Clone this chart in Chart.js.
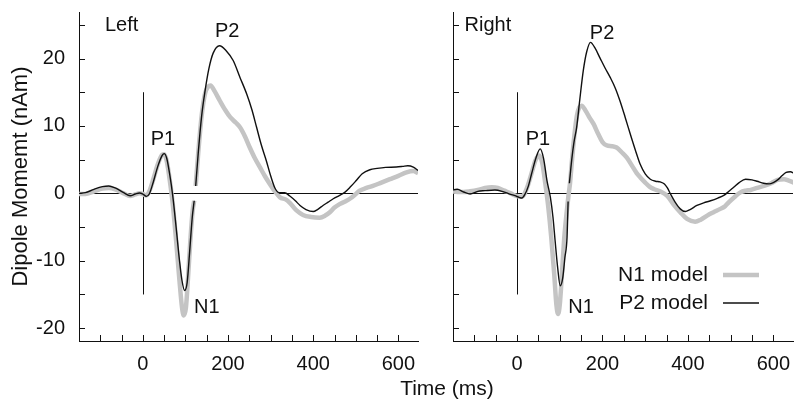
<!DOCTYPE html>
<html>
<head>
<meta charset="utf-8">
<script src="https://cdn.jsdelivr.net/npm/chart.js@4.4.0/dist/chart.umd.min.js"></script>
<style>
  body { margin: 0; background: #fff; }
  #wrap { position: relative; width: 800px; height: 408px; }
  #left { position: absolute; left: 0; top: 0; }
  #right { position: absolute; left: 430px; top: 0; }
  #xtitle { position: absolute; left: 347px; width: 200px; top: 376px; text-align: center;
            font: 21px "Liberation Sans", Arial, sans-serif; color: #111; }
</style>
</head>
<body>
<div id="wrap">
  <canvas id="left" width="430" height="408"></canvas>
  <canvas id="right" width="370" height="408"></canvas>
  <div id="xtitle">Time (ms)</div>
</div>
<script>
// ---- data (time in ms, dipole moment in nAm) ----
const leftP2Time = [-150,-135,-115,-95,-80,-65,-45,-30,-18,-8,0,8,15,25,35,45,50,56,63,70,78,86,92,98,104,110,116,120.5,122,124,130,138,146,155,165,180,195,212,228,244,256,267,278,290,300,310,320,333,345,358,369,383,400,410,423,435,447,462,474,488,501,515,533,550,570,595,610,622,635,646];
const leftP2 = [0,0.1,0.6,1.0,1.1,0.8,0.1,-0.35,-0.1,0.05,-0.1,-0.45,-0.1,1.8,4.0,5.6,5.9,5.2,2.8,-0.3,-5,-10,-13,-14.4,-13.2,-8.5,-3.5,-1.1,null,1.1,6,11.5,15.2,18.5,20.8,21.9,21.2,19.7,17.2,14.7,12.4,9.8,7.2,4.8,2.6,0.8,0.1,0.1,-0.4,-1.1,-1.8,-2.4,-2.7,-2.4,-1.8,-1.3,-0.8,-0.3,0.15,1.0,1.9,2.9,3.5,3.7,3.85,3.9,4.0,4.1,3.9,3.4];

const leftN1Time = [-150,-135,-115,-95,-80,-65,-45,-30,-18,-8,0,8,15,25,35,45,50,56,63,70,78,86,92,96,101,106,112,117,120.5,122,124,130,138,146,153,159,168,181,193,205,218,228,240,251,263,275,287,298,310,322,335,345,360,376,395,415,428,439,450,462,475,486,498,509,525,540,560,580,600,619,635,646];
const leftN1 = [-0.1,-0.1,0.3,0.7,0.8,0.6,0.0,-0.4,-0.15,0.0,-0.1,-0.3,0.3,2.2,4.3,5.7,5.8,4.8,2.0,-1.5,-7,-13,-17,-18.1,-17,-12.5,-6.5,-2.5,-1.1,null,1.1,6,11.5,14.8,15.8,16.0,15.2,13.7,12.4,11.3,10.5,9.8,8.4,6.8,5.2,3.85,2.5,1.4,0.3,-0.6,-0.9,-1.4,-2.5,-3.2,-3.5,-3.6,-3.3,-2.8,-2.1,-1.6,-1.2,-0.8,-0.2,0.4,0.8,1.1,1.6,2.1,2.6,3.1,3.3,3.0];

const rightP2Time = [-152,-140,-125,-110,-92,-75,-52,-35,-20,-5,5,11,18,26,34,44,54,62,70,78,84,89,95,101,107,112,117,119.5,121,122.5,128,133,139.5,147,155,163,172,182,194,206,218,230,241,253,265,277,288,300,312,324,335,345,352,360,370,382,394,405,421,437,453,470,484,496,507,520,535,550,562,577,590,600,610,620,630,640,648];
const rightP2 = [0.5,0.6,0.2,-0.1,0.3,0.4,0.5,0.3,-0.05,-0.35,-0.6,-0.7,-0.2,1.0,2.9,5.2,6.6,5.2,1.9,-0.6,-3.5,-7,-11,-13.7,-12.5,-9.5,-6.5,-1.2,null,1.5,5,7.5,9.8,14,18.2,21,22.4,21.6,20.1,18.6,17.2,15.6,13.7,11.3,8.8,6.4,4.35,2.9,2.1,1.8,1.7,1.4,0.8,-0.2,-1.3,-2.3,-2.7,-2.4,-1.8,-1.4,-1.1,-0.7,-0.3,0.3,0.9,1.6,2.1,2.0,1.8,1.5,1.4,1.6,2.0,2.6,3.1,3.2,3.0];

const rightN1Time = [-152,-140,-125,-110,-92,-75,-59,-45,-30,-15,-5,5,11,18,26,34,43,51.7,59,66,73,80,87,92,96,100,105,110,115,120,124,128,134,140,146,151,160,170,179,190,200,210,222,233,245,257,270,280,288,300,310,320,335,351,367,382,398,417,430,445,460,476,487,496,510,523,535,547,562,578,595,610,625,636,648];
const rightN1 = [0.3,0.2,0.2,0.3,0.5,0.8,0.9,0.8,0.4,0.0,-0.3,-0.5,-0.5,0.0,1.3,3.0,4.9,5.6,4.5,1.5,-2,-6.5,-12,-16.5,-17.9,-16.5,-12,-7,-3.5,-0.5,1.5,4.5,8.5,11.5,12.8,13.0,12.3,11.2,10.3,8.8,7.6,7.1,7.0,6.8,6.1,5.3,4.0,3.0,2.4,1.6,1.0,0.65,0.3,-0.35,-1.7,-2.8,-3.8,-4.2,-3.9,-3.3,-2.8,-2.3,-1.9,-1.3,-0.5,0.15,0.4,0.5,0.8,1.1,1.5,2.0,2.1,1.9,1.6];

const xLabelTicks = [0, 200, 400, 600];
const yLabelTicks = [-20, -10, 0, 10, 20];
const xMinorTicks = [-100,-50,0,50,100,150,200,250,300,350,400,450,500,550,600];
const yMinorTicks = [-20,-15,-10,-5,0,5,10,15,20,25];

const FONT = '"Liberation Sans", Arial, sans-serif';
Chart.defaults.font.family = FONT;
Chart.defaults.font.size = 20;
Chart.defaults.color = '#111';

function toPoints(times, values) {
    return times.map((t, i) => ({ x: t, y: values[i] }));
}

// no extra room for end labels, the box sizes are fixed
function noPadding(s) {
    s.paddingTop = 0;
    s.paddingBottom = 0;
    s.paddingLeft = 0;
    s.paddingRight = 0;
}

// zero line, stimulus line, inward ticks, labels and legend
const overlay = {
    id: 'overlay',
    beforeDatasetsDraw(chart, args, opts) {
        const { ctx, chartArea: a, scales: { x, y } } = chart;
        ctx.save();
        ctx.strokeStyle = '#111';
        ctx.lineWidth = 1;
        ctx.beginPath();
        const y0 = Math.round(y.getPixelForValue(0)) + 0.5;
        ctx.moveTo(a.left, y0);
        ctx.lineTo(a.right, y0);
        const x0 = Math.round(x.getPixelForValue(0)) + 0.5;
        ctx.moveTo(x0, y.getPixelForValue(15));
        ctx.lineTo(x0, y.getPixelForValue(-15));
        xMinorTicks.forEach(v => {
            const px = Math.round(x.getPixelForValue(v)) + 0.5;
            ctx.moveTo(px, a.bottom);
            ctx.lineTo(px, a.bottom - 6);
        });
        yMinorTicks.forEach(v => {
            const py = Math.round(y.getPixelForValue(v)) + 0.5;
            ctx.moveTo(a.left, py);
            ctx.lineTo(a.left + 6, py);
        });
        ctx.stroke();
        ctx.restore();
    },
    afterDatasetsDraw(chart, args, opts) {
        const { ctx, scales: { x, y } } = chart;
        ctx.save();
        ctx.fillStyle = '#111';
        ctx.font = '20px ' + FONT;
        ctx.textBaseline = 'middle';
        (opts.labels || []).forEach(l => {
            ctx.textAlign = l.align || 'center';
            ctx.fillText(l.text, x.getPixelForValue(l.t), y.getPixelForValue(l.v));
        });
        if (opts.legend) {
            const lg = opts.legend;
            ctx.font = '21px ' + FONT;
            ctx.textAlign = 'right';
            lg.items.forEach((it, i) => {
                const yy = lg.y + i * lg.gap;
                ctx.fillText(it.text, lg.x, yy);
                ctx.beginPath();
                ctx.strokeStyle = it.color;
                ctx.lineWidth = it.width;
                ctx.moveTo(lg.x + 15, yy);
                ctx.lineTo(lg.x + 51, yy);
                ctx.stroke();
            });
        }
        ctx.restore();
    }
};

function makeChart(canvasId, n1, p2, cfg) {
    return new Chart(document.getElementById(canvasId), {
        type: 'line',
        data: {
            datasets: [{
                label: 'P2 model',
                data: p2,
                borderColor: '#111',
                borderWidth: 1.4,
                pointRadius: 0,
                cubicInterpolationMode: 'monotone',
                order: 0
            }, {
                label: 'N1 model',
                data: n1,
                borderColor: '#c4c4c4',
                borderWidth: 4.5,
                pointRadius: 0,
                cubicInterpolationMode: 'monotone',
                order: 1
            }]
        },
        options: {
            responsive: false,
            animation: false,
            devicePixelRatio: 1,
            layout: { padding: { top: 12, right: cfg.padRight, left: 0, bottom: 0 } },
            plugins: {
                legend: { display: false },
                tooltip: { enabled: false },
                overlay: { labels: cfg.labels, legend: cfg.legend }
            },
            scales: {
                x: {
                    type: 'linear',
                    min: -150,
                    max: 646,
                    grid: { display: false, drawTicks: false },
                    border: { display: true, color: '#111', width: 1 },
                    ticks: { padding: 11, maxRotation: 0 },
                    afterBuildTicks: s => { s.ticks = xLabelTicks.map(v => ({ value: v })); },
                    afterFit: s => { s.height = 67; noPadding(s); }
                },
                y: {
                    min: -21.9,
                    max: 26.9,
                    grid: { display: false, drawTicks: false },
                    border: { display: true, color: '#111', width: 1 },
                    ticks: { display: cfg.yLabels, padding: 14 },
                    title: {
                        display: cfg.yLabels,
                        text: 'Dipole Momemt (nAm)',
                        font: { size: 22 },
                        padding: { top: 8, bottom: 0 }
                    },
                    afterBuildTicks: s => { s.ticks = yLabelTicks.map(v => ({ value: v })); },
                    afterFit: s => { s.width = cfg.yWidth; noPadding(s); }
                }
            }
        },
        plugins: [overlay]
    });
}

makeChart('left', toPoints(leftN1Time, leftN1), toPoints(leftP2Time, leftP2), {
    padRight: 12,
    yWidth: 79,
    yLabels: true,
    labels: [
        { text: 'Left', t: -89, v: 24.9, align: 'left' },
        { text: 'P2', t: 198, v: 24 },
        { text: 'P1', t: 47, v: 8 },
        { text: 'N1', t: 150, v: -17 }
    ]
});

makeChart('right', toPoints(rightN1Time, rightN1), toPoints(rightP2Time, rightP2), {
    padRight: 7,
    yWidth: 23,
    yLabels: false,
    labels: [
        { text: 'Right', t: -123, v: 24.9, align: 'left' },
        { text: 'P2', t: 199, v: 23.7 },
        { text: 'P1', t: 49, v: 8 },
        { text: 'N1', t: 150, v: -17 }
    ],
    legend: {
        x: 278, y: 275, gap: 28,
        items: [
            { text: 'N1 model', color: '#c4c4c4', width: 4.5 },
            { text: 'P2 model', color: '#111', width: 1.5 }
        ]
    }
});
</script>
</body>
</html>
